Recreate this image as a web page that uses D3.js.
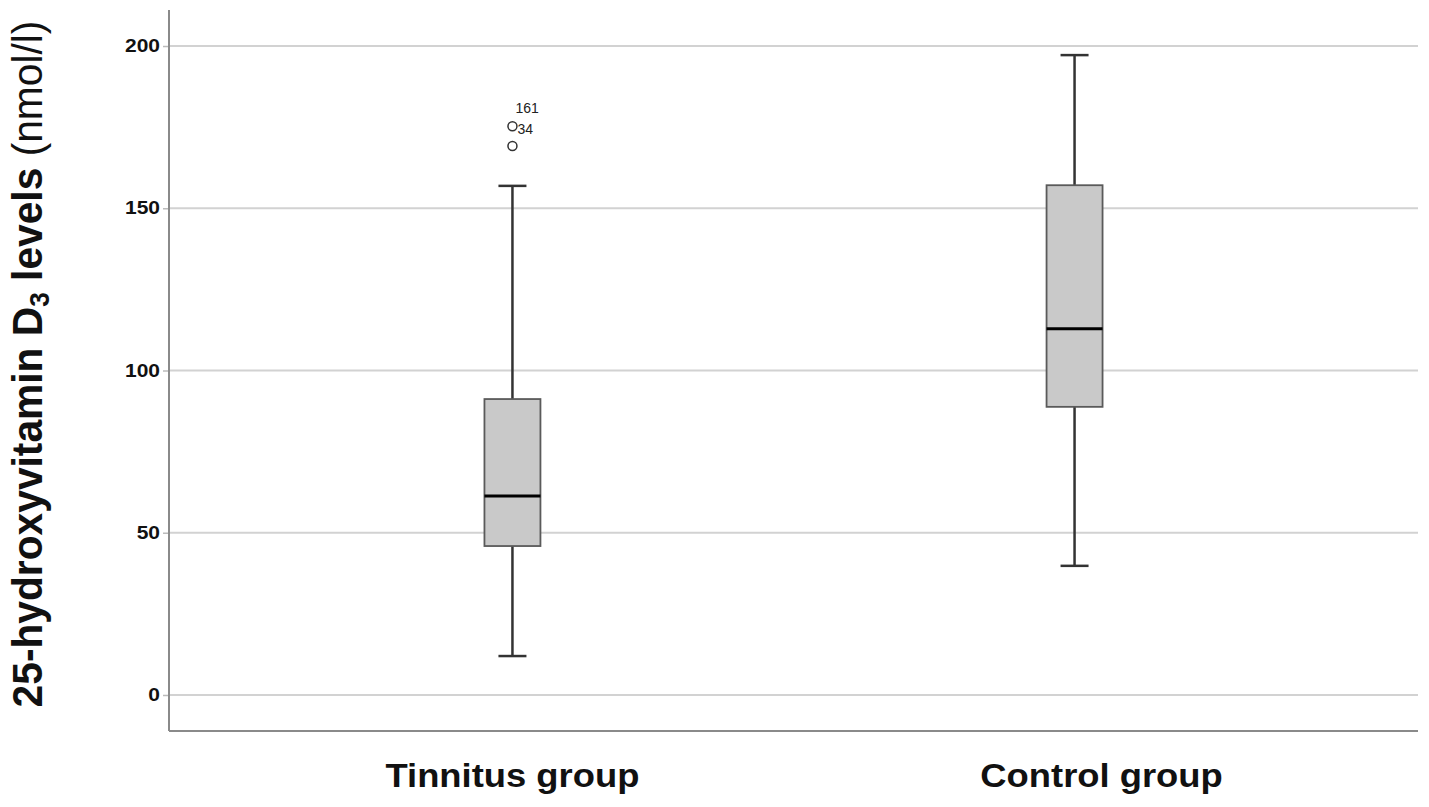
<!DOCTYPE html>
<html><head><meta charset="utf-8">
<script src="https://cdn.jsdelivr.net/npm/d3@7"></script>
<style>body{margin:0;background:#fff}svg{display:block}</style>
</head><body>
<script>
const categories = ["Tinnitus group", "Control group"];
const whiskerLow = [12.0, 39.8];
const q1 = [45.9, 88.8];
const median = [61.3, 112.9];
const q3 = [91.2, 157.1];
const whiskerHigh = [156.9, 197.2];
const outlierValues = [175.3, 169.2];
const outlierGroup = ["Tinnitus group", "Tinnitus group"];
const outlierLabels = ["161", "34"];
const yTicks = [0, 50, 100, 150, 200];

(function () {
const W = 1429, H = 807;
const mLeft = 169, mRight = 1418, mTop = 10, mBottom = 731;
const FONT = "Liberation Sans, Arial, sans-serif";
const svg = d3.select("body").append("svg").attr("width", W).attr("height", H);

const y = d3.scaleLinear().domain([-11.1, 211.1]).range([mBottom, mTop]);
const x = d3.scalePoint().domain(categories).range([mLeft, mRight]).padding(0.611);

// gridlines
svg.append("g").selectAll("line").data(yTicks).join("line")
  .attr("x1", mLeft).attr("x2", mRight)
  .attr("y1", d => y(d)).attr("y2", d => y(d))
  .attr("stroke", "#d2d2d2").attr("stroke-width", 2);

// y axis
const sx = 1.2;
const ya = svg.append("g").attr("transform", `translate(${mLeft},0)`)
  .call(d3.axisLeft(y).tickValues(yTicks).tickSize(6).tickPadding(5));
ya.select(".domain").remove();
ya.selectAll(".tick line").attr("stroke", "#bbb").attr("stroke-width", 1.5);
ya.selectAll(".tick text").attr("font-family", FONT)
  .attr("font-weight", "bold").attr("font-size", 17.5).attr("fill", "#111")
  .attr("x", -9 / sx).attr("transform", `scale(${sx},1)`);

// axis frame lines
svg.append("line").attr("x1", mLeft).attr("x2", mLeft).attr("y1", mTop).attr("y2", mBottom)
  .attr("stroke", "#8a8a8a").attr("stroke-width", 2);
svg.append("line").attr("x1", mLeft).attr("x2", mRight).attr("y1", mBottom).attr("y2", mBottom)
  .attr("stroke", "#8a8a8a").attr("stroke-width", 2);

const boxW = 56, capW = 28;
const g = svg.append("g");
categories.forEach((c, i) => {
  const cx = x(c);
  g.append("line").attr("x1", cx).attr("x2", cx).attr("y1", y(q3[i])).attr("y2", y(whiskerHigh[i]))
    .attr("stroke", "#333").attr("stroke-width", 2.5);
  g.append("line").attr("x1", cx).attr("x2", cx).attr("y1", y(q1[i])).attr("y2", y(whiskerLow[i]))
    .attr("stroke", "#333").attr("stroke-width", 2.5);
  g.append("line").attr("x1", cx - capW/2).attr("x2", cx + capW/2).attr("y1", y(whiskerHigh[i])).attr("y2", y(whiskerHigh[i]))
    .attr("stroke", "#333").attr("stroke-width", 2.5);
  g.append("line").attr("x1", cx - capW/2).attr("x2", cx + capW/2).attr("y1", y(whiskerLow[i])).attr("y2", y(whiskerLow[i]))
    .attr("stroke", "#333").attr("stroke-width", 2.5);
  g.append("rect").attr("x", cx - boxW/2).attr("width", boxW)
    .attr("y", y(q3[i])).attr("height", y(q1[i]) - y(q3[i]))
    .attr("fill", "#c9c9c9").attr("stroke", "#5a5a5a").attr("stroke-width", 1.8);
  g.append("line").attr("x1", cx - boxW/2).attr("x2", cx + boxW/2).attr("y1", y(median[i])).attr("y2", y(median[i]))
    .attr("stroke", "#000").attr("stroke-width", 3);
});

outlierValues.forEach((v, i) => {
  const cx = x(outlierGroup[i]);
  g.append("circle").attr("cx", cx).attr("cy", y(v)).attr("r", 4.5)
    .attr("fill", "#fff").attr("stroke", "#333").attr("stroke-width", 1.5);
});
g.append("text").attr("x", x(outlierGroup[0]) + 3).attr("y", y(outlierValues[0]) - 13)
  .text(outlierLabels[0]);
g.append("text").attr("x", x(outlierGroup[0]) + 5).attr("y", y(outlierValues[0]) + 8)
  .text(outlierLabels[1]);
g.selectAll("text").attr("font-family", FONT).attr("font-size", 14).attr("fill", "#222");

// x category labels (slightly stretched; second label sits right of its box as in the reference)
const lx = 1.07;
const labelShift = [0, 27];
svg.append("g").attr("transform", `scale(${lx},1)`).selectAll("text").data(categories).join("text")
  .attr("x", (d, i) => (x(d) + labelShift[i]) / lx).attr("y", 787).attr("text-anchor", "middle")
  .attr("font-family", FONT).attr("font-weight", "bold")
  .attr("font-size", 34).attr("fill", "#111").text(d => d);

// y title
const yt = svg.append("text").attr("transform", "translate(42,364) rotate(-90) scale(0.97,1)")
  .attr("text-anchor", "middle").attr("font-family", FONT)
  .attr("font-size", 42).attr("fill", "#111");
yt.append("tspan").attr("font-weight", "bold").text("25-hydroxyvitamin D");
yt.append("tspan").attr("font-weight", "bold").attr("font-size", 27).attr("dy", 7).text("3");
yt.append("tspan").attr("font-weight", "bold").attr("dy", -7).text(" levels ");
yt.append("tspan").text("(nmol/l)");
})();
</script>
</body></html>
